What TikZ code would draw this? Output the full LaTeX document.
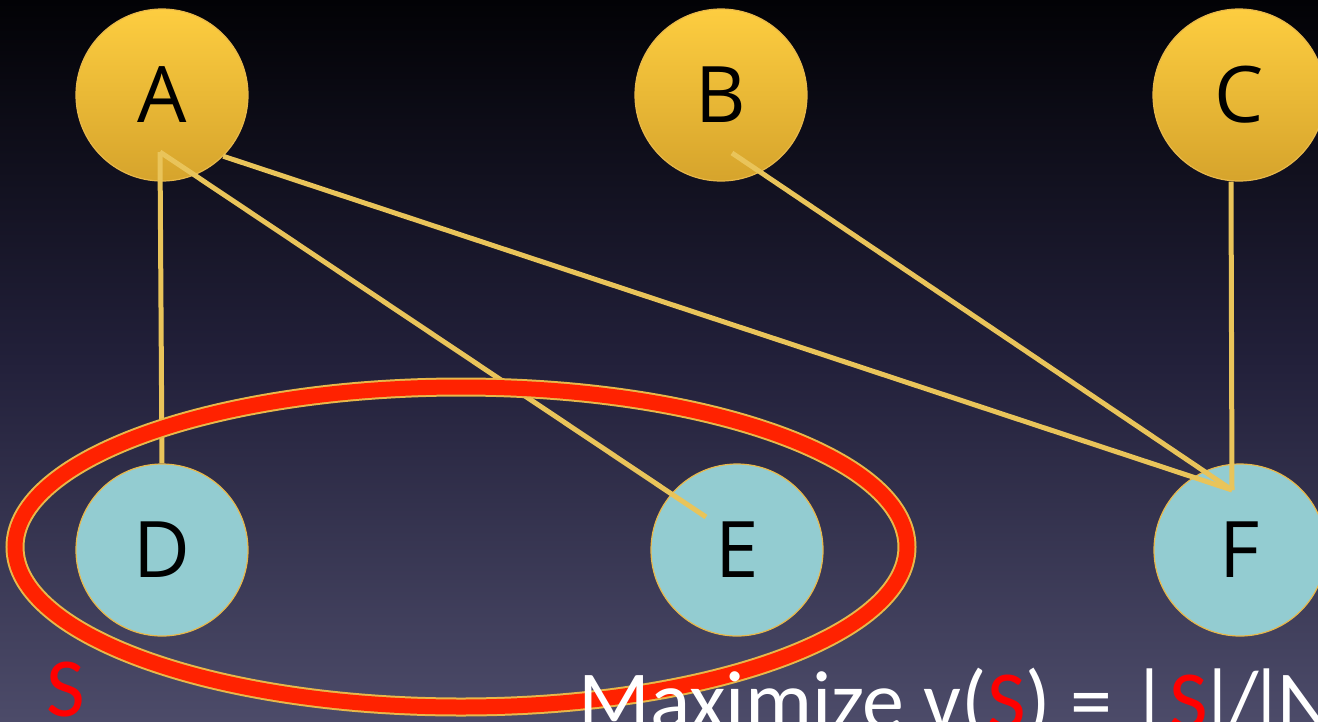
\documentclass[tikz,border=0pt]{standalone}
\usepackage{fontspec}
\setmainfont{Open Sans}
\newfontfamily\capfont{Carlito}
\usetikzlibrary{calc}
\definecolor{bgtop}{HTML}{020205}
\definecolor{bgmid}{HTML}{22203A}
\definecolor{bgbot}{HTML}{4C4B69}
\definecolor{goldtop}{HTML}{FDCD40}
\definecolor{goldbot}{HTML}{D6A42C}
\definecolor{tealfill}{HTML}{93CCD1}
\definecolor{edgecol}{HTML}{E9C45A}
\definecolor{rimcol}{HTML}{E8B84A}
\definecolor{setred}{HTML}{FF2200}
\definecolor{txtred}{HTML}{FF0000}
\tikzset{
  goldnode/.style={circle, minimum size=172pt, inner sep=0pt, draw=rimcol, line width=1.2pt,
    top color=goldtop, bottom color=goldbot, font=\fontsize{78}{80}\selectfont},
  tealnode/.style={circle, minimum size=172pt, inner sep=0pt, draw=rimcol, line width=1.2pt,
    fill=tealfill, font=\fontsize{78}{80}\selectfont},
  edge/.style={draw=edgecol, line width=5pt},
  bigtext/.style={inner sep=0pt, font=\capfont\fontsize{84}{86}\selectfont},
}
\begin{document}
\begin{tikzpicture}[x=1pt, y=-1pt]
\useasboundingbox (0,0) rectangle (1318,721);
\shade[top color=bgtop, bottom color=bgbot, middle color=bgmid] (0,0) rectangle (1318,721);
% nodes
\node[goldnode] (A) at (162,95) {A};
\node[goldnode] (B) at (721,95) {B};
\node[goldnode] (C) at (1239,95) {C};
\node[tealnode] (D) at (162,550) {D};
\node[tealnode] (E) at (737,550) {E};
\node[tealnode] (F) at (1240,550) {F};
% edge end points
\coordinate (a0) at ($(A.center)+(-2,57)$);
\coordinate (f0) at ($(F.center)+(-8,-60)$);
\coordinate (e0) at ($(E.center)+(-31,-33)$);
\coordinate (b0) at ($(B.center)+(11,58)$);
\coordinate (c0) at ($(C.south)+(-8,0)$);
% edges
\draw[edge] (a0) -- (D.north);
\draw[edge] (a0) -- (e0);
\draw[edge] (A.-45) -- (f0);
\draw[edge] (b0) -- (f0);
\draw[edge] (c0) -- (f0);
% set S ellipse
\node[coordinate] (S) at (461,547) {};
\draw[draw=rimcol, line width=19pt] (S) ellipse [x radius=446, y radius=160];
\draw[draw=setred, line width=15pt] (S) ellipse [x radius=446, y radius=160];
% texts
\node[bigtext, anchor=base, text=txtred] (lblS) at (66,716) {S};
\node[bigtext, anchor=base west, text=white] (goal) at (578,729)
  {Maximize v(\textcolor{txtred}{S}) = |\textcolor{txtred}{S}\kern-10pt|\kern-10pt/\kern-12pt|\kern-8pt N|};
\end{tikzpicture}
\end{document}
